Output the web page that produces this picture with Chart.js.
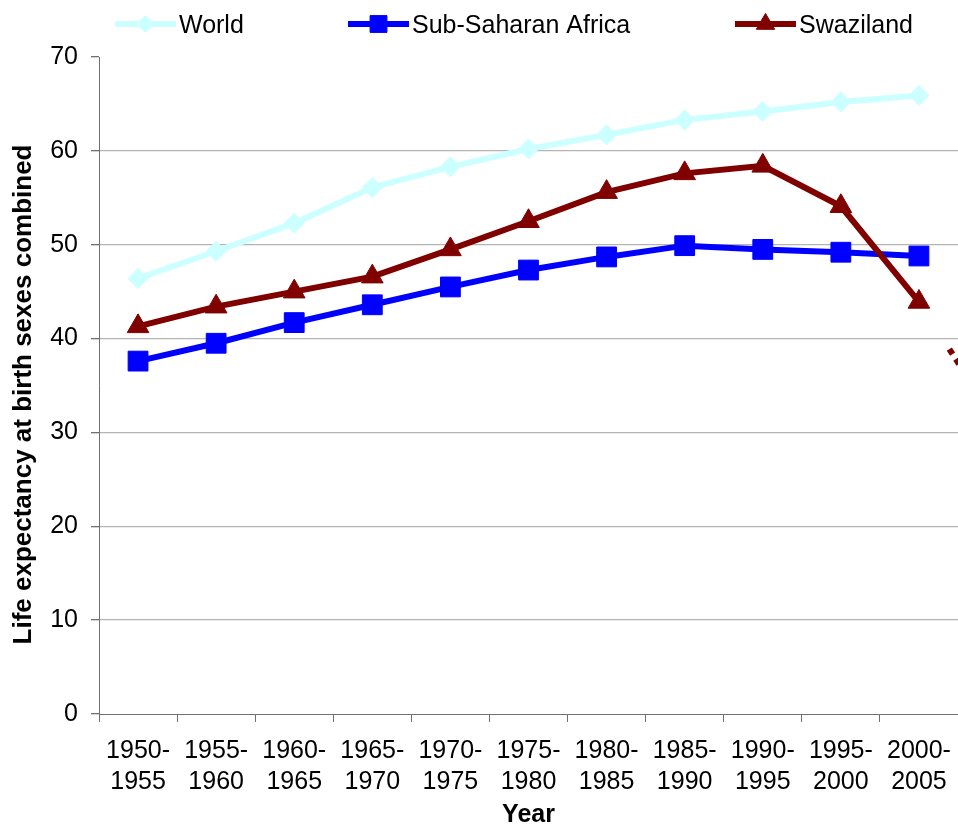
<!DOCTYPE html>
<html>
<head>
<meta charset="utf-8">
<script src="https://cdn.jsdelivr.net/npm/chart.js@4.4.1/dist/chart.umd.min.js"></script>
<style>
html,body{margin:0;padding:0;background:#fff;overflow:hidden}
#wrap{width:958px;height:834px;position:relative}
</style>
</head>
<body>
<div id="wrap"><canvas id="c" width="958" height="834"></canvas></div>
<script>
// ---- data ----
const categories = [
  ['1950-','1955'],['1955-','1960'],['1960-','1965'],['1965-','1970'],
  ['1970-','1975'],['1975-','1980'],['1980-','1985'],['1985-','1990'],
  ['1990-','1995'],['1995-','2000'],['2000-','2005']
];
const seriesNames = ['World', 'Sub-Saharan Africa', 'Swaziland'];
const world            = [46.4, 49.3, 52.3, 56.1, 58.3, 60.2, 61.7, 63.3, 64.2, 65.2, 65.9];
const subSaharanAfrica = [37.6, 39.5, 41.7, 43.6, 45.5, 47.3, 48.7, 49.9, 49.5, 49.2, 48.8];
const swaziland        = [41.3, 43.4, 45.0, 46.6, 49.5, 52.5, 55.6, 57.6, 58.4, 54.1, 43.9];
const swazilandNext    = [31];   // 2005-2010 continuation, dashed, cut off at the edge
const yTicks = [0, 10, 20, 30, 40, 50, 60, 70];
const yTitle = 'Life expectancy at birth sexes combined';
const xTitle = 'Year';

// ---- styles ----
const FONT = '"Liberation Sans", Arial, Helvetica, sans-serif';
const colors = ['#CCFFFF', '#0000FF', '#800000'];
const pointStyles = ['rectRot', 'rect', 'triangle'];
const pointRadii = [10, 14, 12.5];
const legendStartX = [115, 348, 735];
const AXIS = '#707070', GRID = '#b4b4b4';

function drawMarker(ctx, style, r, x, y, color) {
  if (Chart.helpers && Chart.helpers.drawPoint) {
    ctx.save();
    ctx.fillStyle = color; ctx.strokeStyle = color; ctx.lineWidth = 1;
    Chart.helpers.drawPoint(ctx, {pointStyle: style, radius: r, rotation: 0, borderWidth: 1}, x, y);
    ctx.restore();
  }
}

const legendPlugin = {
  id: 'excelLegend',
  afterDraw(chart) {
    const ctx = chart.ctx;
    const y = 25;
    seriesNames.forEach((name, i) => {
      const x0 = legendStartX[i];
      ctx.save();
      ctx.strokeStyle = colors[i];
      ctx.lineWidth = 6;
      ctx.beginPath(); ctx.moveTo(x0, y - 1); ctx.lineTo(x0 + 61, y - 1); ctx.stroke();
      drawMarker(ctx, pointStyles[i], pointRadii[i] * 0.85, x0 + 30.5, y - 1, colors[i]);
      ctx.fillStyle = '#000';
      ctx.font = '25px ' + FONT;
      ctx.textBaseline = 'middle';
      ctx.textAlign = 'left';
      ctx.fillText(name, x0 + 64, y + 1);
      ctx.restore();
    });
    // y-axis title
    const ca = chart.chartArea;
    ctx.save();
    ctx.translate(24, (ca.top + ca.bottom) / 2 + 9);
    ctx.rotate(-Math.PI / 2);
    ctx.fillStyle = '#000';
    ctx.font = 'bold 26px ' + FONT;
    ctx.textAlign = 'center';
    ctx.textBaseline = 'middle';
    ctx.fillText(yTitle, 0, 0);
    ctx.restore();
  }
};

const continuationPlugin = {
  id: 'continuation',
  afterDatasetsDraw(chart) {
    const meta = chart.getDatasetMeta(2);
    const last = meta.data[meta.data.length - 1];
    const xs = chart.scales.x, ys = chart.scales.y;
    const step = xs.getPixelForValue(1) - xs.getPixelForValue(0);
    const x2 = last.x + step;
    const y2 = ys.getPixelForValue(swazilandNext[0]);
    const ctx = chart.ctx;
    ctx.save();
    ctx.strokeStyle = colors[2];
    ctx.lineWidth = 6;
    ctx.lineCap = 'butt';
    ctx.setLineDash([0, 56, 6, 6, 6, 6, 6, 6, 6, 6, 6, 300]);
    ctx.beginPath(); ctx.moveTo(last.x, last.y); ctx.lineTo(x2, y2); ctx.stroke();
    ctx.restore();
  }
};

const mk = (i, data, order) => ({
  label: seriesNames[i],
  data,
  borderColor: colors[i],
  backgroundColor: colors[i],
  borderWidth: 6,
  pointStyle: pointStyles[i],
  pointRadius: pointRadii[i],
  pointHoverRadius: pointRadii[i],
  pointBackgroundColor: colors[i],
  pointBorderColor: colors[i],
  pointBorderWidth: 1,
  tension: 0,
  fill: false,
  order
});

new Chart(document.getElementById('c'), {
  type: 'line',
  data: {
    labels: categories,
    datasets: [mk(0, world, 1), mk(1, subSaharanAfrica, 2), mk(2, swaziland, 0)]
  },
  options: {
    responsive: false,
    animation: false,
    layout: {autoPadding: false, padding: {top: 57, left: 0, right: 0, bottom: 0}},
    plugins: {legend: {display: false}, tooltip: {enabled: false}},
    scales: {
      x: {
        type: 'category',
        offset: true,
        grid: {offset: true, drawOnChartArea: false, tickLength: 8, tickColor: AXIS, tickWidth: 1},
        border: {color: AXIS, width: 1},
        ticks: {color: '#000', font: {size: 25, family: FONT, lineHeight: 1.25}, padding: 13, maxRotation: 0, autoSkip: false},
        title: {display: true, text: xTitle, color: '#000', font: {size: 25, weight: 'bold', family: FONT, lineHeight: 1}, padding: {top: 0, bottom: 6}},
        afterFit(s) { s.height = 120; s.paddingLeft = 0; s.paddingRight = 0; }
      },
      y: {
        min: 0, max: 70,
        afterBuildTicks(s) { s.ticks = yTicks.map(v => ({value: v})); },
        grid: {
          color: c => (c.tick && (c.tick.value === 70 || c.tick.value === 0)) ? 'rgba(0,0,0,0)' : GRID,
          tickColor: AXIS, tickLength: 8, lineWidth: 1.3
        },
        border: {color: AXIS, width: 1},
        ticks: {color: '#000', font: {size: 25, family: FONT}, padding: 13},
        title: {display: false},
        afterFit(s) { s.width = 99; s.paddingTop = 0; s.paddingBottom = 0; }
      }
    }
  },
  plugins: [legendPlugin, continuationPlugin]
});
</script>
</body>
</html>
